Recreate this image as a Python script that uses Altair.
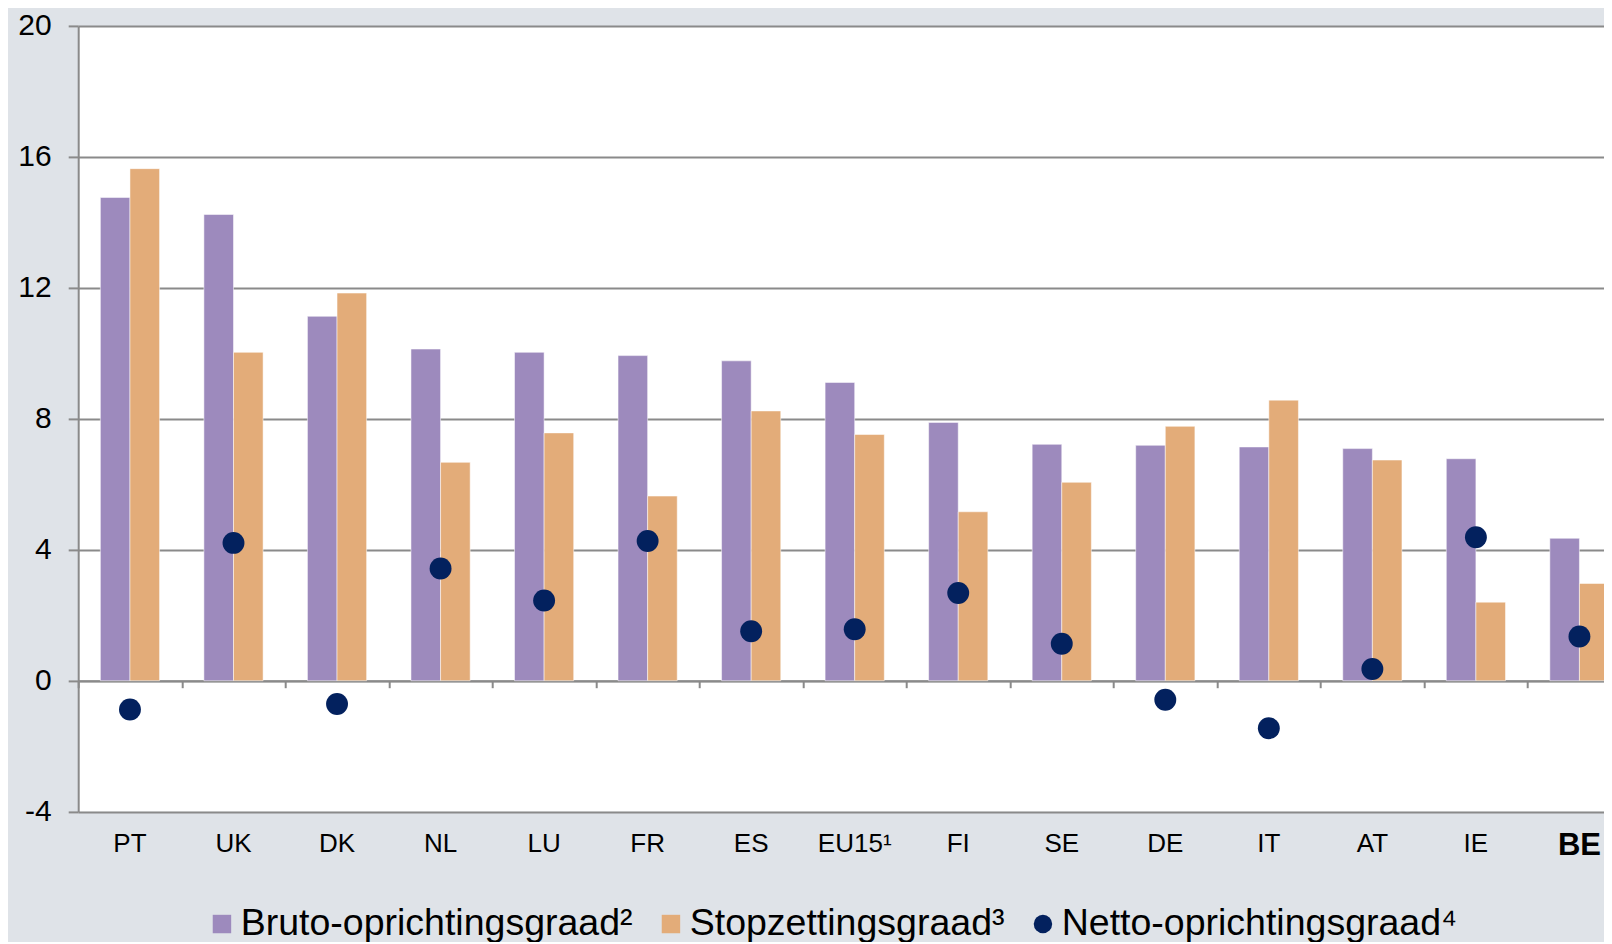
import altair as alt
import pandas as pd

countries = ["PT", "UK", "DK", "NL", "LU", "FR", "ES", "EU15¹", "FI", "SE", "DE", "IT", "AT", "IE", "BE"]
bruto = [14.76, 14.24, 11.13, 10.13, 10.03, 9.93, 9.77, 9.11, 7.89, 7.22, 7.19, 7.14, 7.09, 6.78, 4.35]
stop = [15.64, 10.03, 11.84, 6.67, 7.57, 5.64, 8.24, 7.52, 5.16, 6.06, 7.77, 8.57, 6.74, 2.40, 2.97]
netto = [-0.88, 4.21, -0.71, 3.43, 2.45, 4.27, 1.51, 1.57, 2.68, 1.13, -0.58, -1.45, 0.36, 4.38, 1.35]
series_names = ["Bruto-oprichtingsgraad²", "Stopzettingsgraad³", "Netto-oprichtingsgraad⁴"]
series_colors = ["#9d8abd", "#e3ac79", "#03215e"]
y_ticks = [-4, 0, 4, 8, 12, 16, 20]

bars_df = pd.DataFrame(
    [{"country": c, "series": series_names[0], "value": v} for c, v in zip(countries, bruto)]
    + [{"country": c, "series": series_names[1], "value": v} for c, v in zip(countries, stop)]
)
dots_df = pd.DataFrame({"country": countries, "series": series_names[2], "value": netto})

GRAY = "#8a8a8a"
FONT = "Liberation Sans"

x_scale = alt.Scale(domain=countries, range=[0, 1553], paddingInner=0, paddingOuter=0)
y_scale = alt.Scale(domain=[-4, 20], nice=False)
color_scale = alt.Scale(domain=series_names, range=series_colors)
shape_scale = alt.Scale(domain=series_names, range=["square", "square", "circle"])

legend = alt.Legend(
    orient="none", legendX=125, legendY=879, direction="horizontal", title=None,
    labelFontSize=37.5, labelFont=FONT, labelColor="black", symbolSize=340,
    symbolStrokeWidth=0, symbolOpacity=1, labelOffset=0, columnPadding=19,
    padding=0, labelLimit=600,
)

y_axis = alt.Axis(
    values=y_ticks, title=None, labelFontSize=30, labelColor="black", labelPadding=17,
    labelExpr="datum.value < 0 ? '-' + abs(datum.value) : '' + datum.value",
    tickSize=10, tickColor=GRAY, tickWidth=2, domainColor=GRAY, domainWidth=2,
    grid=True, gridColor=GRAY, gridWidth=2,
)

bars = alt.Chart(bars_df).mark_bar(stroke="#ffffff", strokeWidth=1, strokeOpacity=0.5).encode(
    x=alt.X("country:N", sort=countries, scale=x_scale, axis=alt.Axis(
        orient="bottom", title=None, domain=False, ticks=False, tickSize=0, labelAngle=0,
        labelPadding=19, labelColor="black", grid=False,
        labelFontSize={"condition": {"test": "datum.value === 'BE'", "value": 31}, "value": 26},
        labelFontWeight={"condition": {"test": "datum.value === 'BE'", "value": "bold"}, "value": "normal"},
    )),
    xOffset=alt.XOffset("series:N", sort=series_names[:2],
                        scale=alt.Scale(domain=series_names[:2], paddingInner=0, paddingOuter=0.749)),
    y=alt.Y("value:Q", scale=y_scale, axis=y_axis),
    color=alt.Color("series:N", scale=color_scale, legend=legend),
)

dots = alt.Chart(dots_df).mark_point(filled=True, size=480, opacity=1, strokeWidth=0).encode(
    x=alt.X("country:N", sort=countries, scale=x_scale, axis=alt.Axis(
        orient="bottom", offset=-131, title=None, labels=False, domain=True,
        domainColor=GRAY, domainWidth=2, ticks=True, tickBand="extent", tickSize=7,
        tickColor=GRAY, tickWidth=2, grid=False,
    )),
    y=alt.Y("value:Q", scale=y_scale, axis=y_axis),
    color=alt.Color("series:N", scale=color_scale, legend=legend),
    shape=alt.Shape("series:N", scale=shape_scale, legend=legend),
)

chart = (
    alt.layer(bars, dots)
    .resolve_axis(x="independent")
    .properties(
        width=1525.8, height=785.8,
        autosize=alt.AutoSizeParams(type="none"),
        padding={"left": 70.2, "top": 17.9, "right": 0, "bottom": 130.3},
        background="#dfe3e8",
    )
    .configure(font=FONT)
    .configure_view(stroke=None, fill="white")
)

chart.save("out.html", embed_options={"renderer": "svg", "actions": False})
